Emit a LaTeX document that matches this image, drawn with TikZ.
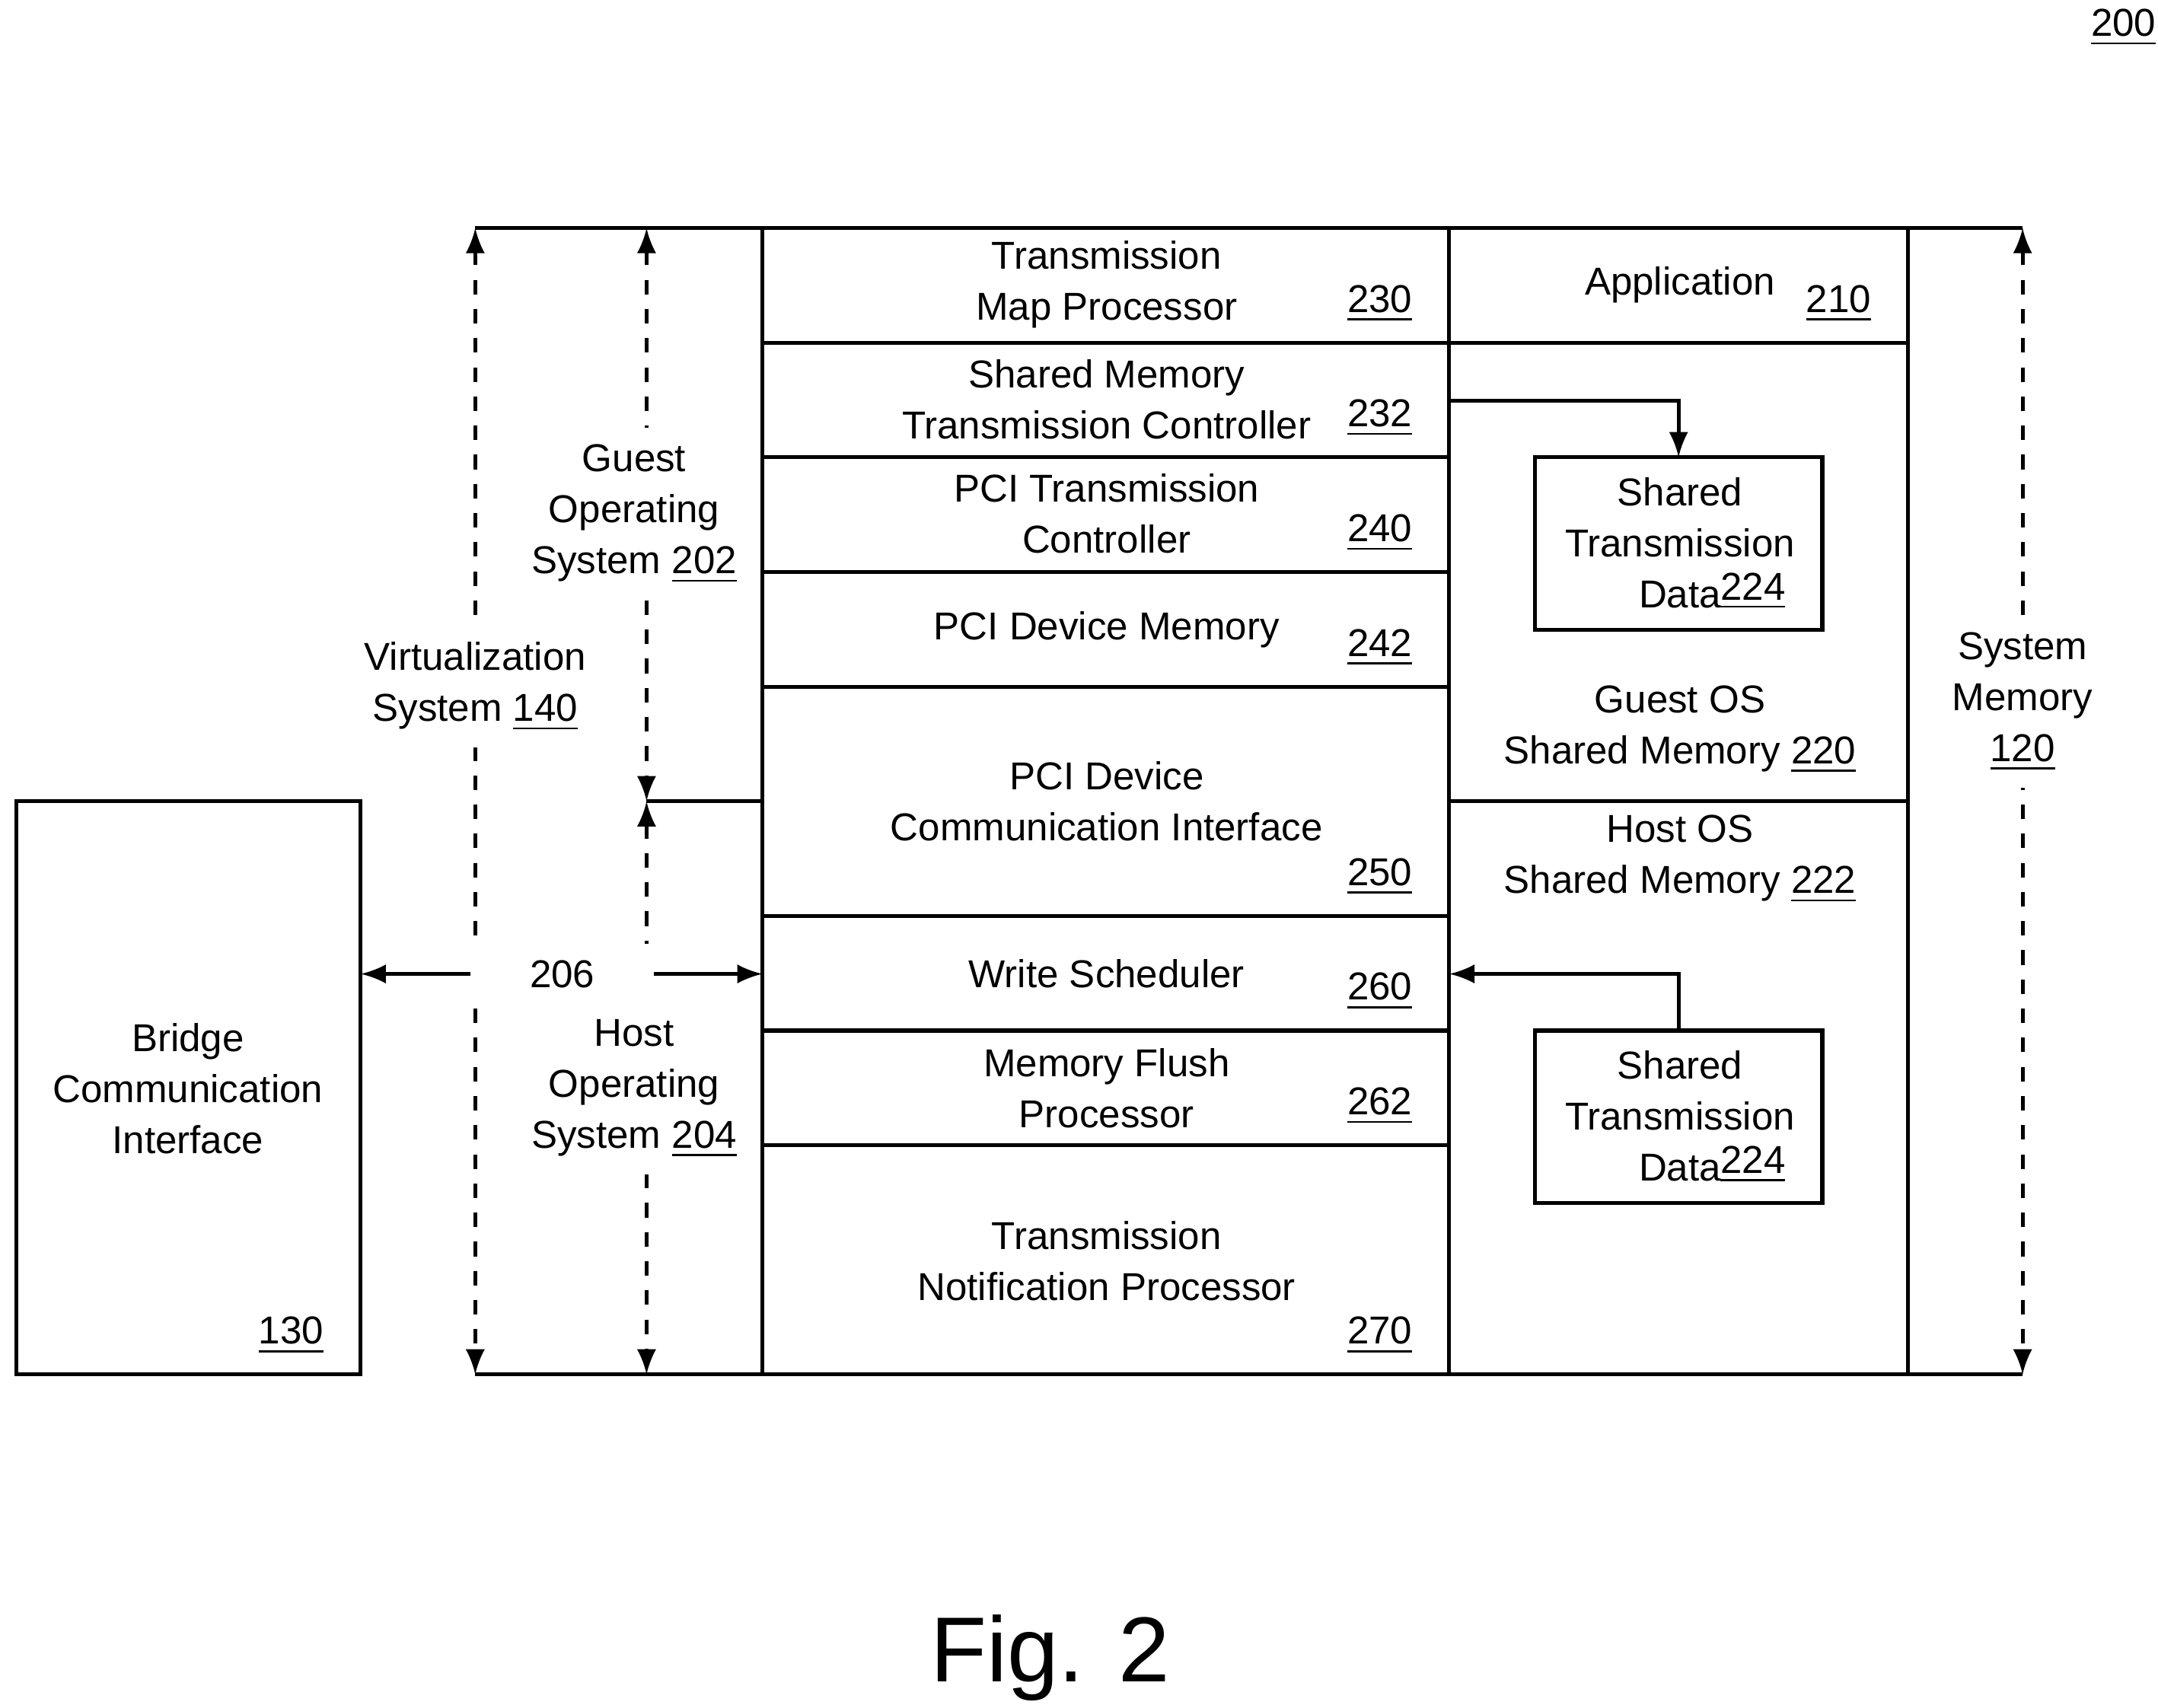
\documentclass[tikz,border=0pt]{standalone}
\usepackage{fontspec}
\setmainfont{Liberation Sans}
\usetikzlibrary{positioning}
\newcommand{\refnum}[1]{\underline{#1}}
\begin{document}
\begin{tikzpicture}[x=0.01cm,y=-0.01cm,
        every node/.style={font=\fontsize{8}{10.5}\selectfont},
        blk/.style={draw,thick},
        lbl/.style={align=center},
        num/.style={anchor=south east,inner sep=2pt},
        dim/.style={dashed,thick,-latex},
        con/.style={thick,-latex}
    ]
    \useasboundingbox (0,0) rectangle (1562,1236);
    % outer frame columns
    \draw[blk] (552,165) rectangle (1381,995);
    \draw[blk] (1049,165) -- (1049,995);
    % left column rows
    \foreach \y in {248,331,414,497,663,746,829}
        \draw[blk] (552,\y) -- (1049,\y);
    % right column rows
    \draw[blk] (1049,248) -- (1381,248);
    \draw[blk] (1049,580) -- (1381,580);
    % row labels
    \node[lbl] (tmp) at (801,206) {Transmission\\Map Processor};
    \node[num] at (1030,241) {\refnum{230}};
    \node[lbl] (smtc) at (801,289) {Shared Memory\\Transmission Controller};
    \node[num] at (1030,324) {\refnum{232}};
    \node[lbl] (pcitc) at (801,372) {PCI Transmission\\Controller};
    \node[num] at (1030,407) {\refnum{240}};
    \node[lbl] (pcidm) at (801,456) {PCI Device Memory};
    \node[num] at (1030,490) {\refnum{242}};
    \node[lbl] (pcidci) at (801,580) {PCI Device\\Communication Interface};
    \node[num] at (1030,656) {\refnum{250}};
    \node[lbl] (ws) at (801,705) {Write Scheduler};
    \node[num] at (1030,739) {\refnum{260}};
    \node[lbl] (mfp) at (801,788) {Memory Flush\\Processor};
    \node[num] at (1030,822) {\refnum{262}};
    \node[lbl] (tnp) at (801,913) {Transmission\\Notification Processor};
    \node[num] at (1030,988) {\refnum{270}};
    % right column labels
    \node[lbl] (app) at (1216,206) {Application};
    \node[num] at (1362,241) {\refnum{210}};
    \node[lbl] (gosm) at (1216,528) {Guest OS\\Shared Memory \refnum{220}};
    \node[lbl] (hosm) at (1216,622) {Host OS\\Shared Memory \refnum{222}};
    % shared transmission data boxes
    \draw[blk] (1111,331) rectangle (1319,456);
    \node[lbl] (stdg) at (1216,393) {Shared\\Transmission\\Data};
    \node[num] at (1300,449) {\refnum{224}};
    \draw[blk] (1111,746) rectangle (1319,871);
    \node[lbl] (stdh) at (1216,808) {Shared\\Transmission\\Data};
    \node[num] at (1300,864) {\refnum{224}};
    \draw[con] (1049,290) -| (1215,331);
    \draw[con] (1215,746) |- (1049,705);
    % bridge
    \draw[blk] (12,580) rectangle (261,995);
    \node[lbl] (bci) at (136,788) {Bridge\\Communication\\Interface};
    \node[num] at (242,988) {\refnum{130}};
    % extent lines
    \draw[thick] (344,165) -- (552,165);
    \draw[thick] (344,995) -- (552,995);
    \draw[thick] (1381,165) -- (1464,165);
    \draw[thick] (1381,995) -- (1464,995);
    \draw[thick] (552,580) -- (468,580);
    % dashed dimension arrows
    \draw[dim,latex-latex] (344,165) -- (344,995);
    \draw[dim,latex-latex] (468,165) -- (468,580);
    \draw[dim,latex-latex] (468,580) -- (468,995);
    \draw[dim,latex-latex] (1464,165) -- (1464,995);
    \node[lbl,fill=white] (virt) at (344,497) {Virtualization\\System \refnum{140}};
    \node[lbl,fill=white] (gos) at (459,372) {Guest\\Operating\\System \refnum{202}};
    \node[lbl,fill=white] (hos) at (459,788) {Host\\Operating\\System \refnum{204}};
    \node[lbl,fill=white] (sysmem) at (1464,508) {System\\Memory\\\refnum{120}};
    % link 206
    \node[fill=white,inner xsep=12pt] (link) at (407,705) {206};
    \draw[con] (link.west) -- (261,705);
    \draw[con] (link.east) -- (552,705);
    % captions
    \node (fig) at (760,1200) {\fontsize{19}{22}\selectfont Fig. 2};
    \node (ref) at (1537,20) {\refnum{200}};
\end{tikzpicture}
\end{document}
